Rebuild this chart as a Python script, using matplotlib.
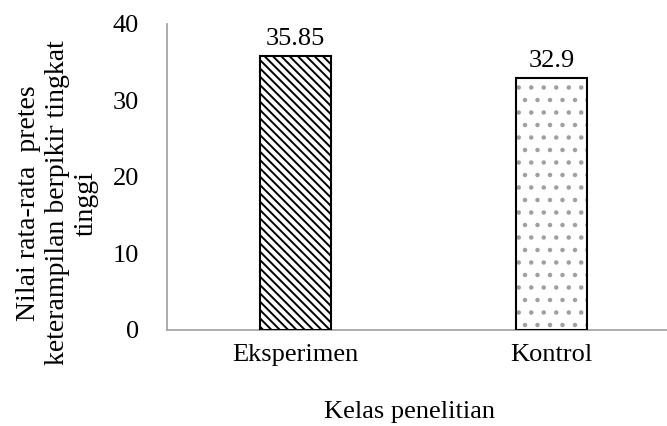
import matplotlib.pyplot as plt
from matplotlib.backend_bases import GraphicsContextBase
from matplotlib.path import Path

plt.rcParams["font.family"] = "Liberation Serif"
plt.rcParams["hatch.linewidth"] = 1.4


# looser hatch grid than the default 6 per inch
def _hatch_path(self, density=4.5):
    return Path.hatch(self._hatch, density) if self._hatch else None


GraphicsContextBase.get_hatch_path = _hatch_path

categories = ["Eksperimen", "Kontrol"]
values = [35.85, 32.9]
value_labels = ["35.85", "32.9"]
hatches = ["\\" * 6, ".."]
hatch_colors = ["black", "#a0a0a0"]

fig = plt.figure(figsize=(6.67, 4.26), dpi=100)
ax = fig.add_axes([167 / 667, 1 - 330 / 426, 500 / 667, 306 / 426])

fs = 19
x = range(len(categories))
for i, v in enumerate(values):
    ax.bar(i, v, width=0.277, color="white", edgecolor=hatch_colors[i],
           hatch=hatches[i], linewidth=0, zorder=2)
    ax.bar(i, v, width=0.277, color="none", edgecolor="black",
           linewidth=1.5, zorder=3)
    ax.text(i, v + 0.8, value_labels[i], ha="center", va="bottom", fontsize=fs)

ax.set_xlim(-0.5, 1.45)
ax.set_ylim(0, 40)
ax.set_yticks([0, 10, 20, 30, 40])
ax.set_xticks(list(x))
ax.set_xticklabels(categories)
ax.tick_params(axis="both", length=0, labelsize=fs)
ax.tick_params(axis="y", pad=20)
ax.tick_params(axis="x", pad=10)

for s in ["top", "right"]:
    ax.spines[s].set_visible(False)
for s in ["left", "bottom"]:
    ax.spines[s].set_color("#a6a6a6")
    ax.spines[s].set_linewidth(1.3)

fig.text(410 / 667, 1 - 412 / 426, "Kelas penelitian", ha="center", va="center", fontsize=fs)
fig.text(57 / 667, 1 - 203 / 426,
         "Nilai rata-rata  pretes\nketerampilan berpikir tingkat\ntinggi",
         ha="center", va="center", rotation=90, fontsize=20, linespacing=1.2)

fig.savefig("out.png", dpi=100)
